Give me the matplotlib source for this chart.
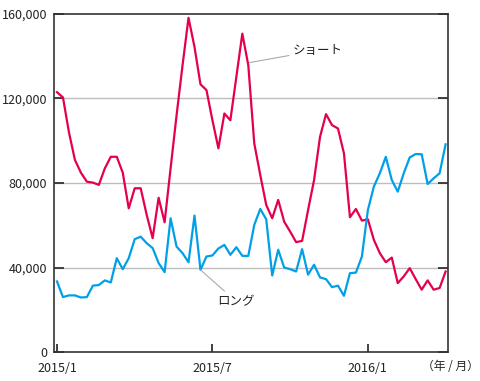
import numpy as np
import matplotlib.pyplot as plt

plt.rcParams['font.family'] = ['Noto Sans CJK JP', 'DejaVu Sans']

# weekly values, 2015/1 .. 2016/4
short = [123000, 120500, 104000, 90900, 84900, 80600, 80200, 79100, 86900, 92400,
         92400, 84900, 68000, 77500, 77500, 65000, 53900, 73000, 61400, 86900,
         112000, 135700, 158200, 144400, 126700, 124000, 109700, 96400, 112900, 109700,
         130200, 150700, 135700, 98700, 83800, 69600, 63300, 72000, 61700, 57000,
         52000, 52600, 67200, 81400, 101900, 112600, 107400, 105800, 94000, 63800,
         67700, 62200, 62800, 53100, 46800, 42500, 44700, 32600, 35800, 39700,
         34500, 29500, 33900, 29500, 30300, 38100]
long_ = [33400, 26000, 26800, 26800, 25800, 26000, 31400, 31700, 33900, 32900,
         44400, 39200, 44400, 53400, 54600, 51500, 49200, 42100, 37800, 63300,
         49900, 46800, 42500, 64600, 38900, 45200, 45700, 49000, 50700, 46000,
         49600, 45500, 45500, 60200, 67700, 62800, 36200, 48400, 40000, 39200,
         38100, 48700, 36600, 41300, 35300, 34500, 30700, 31400, 26600, 37300,
         37600, 45200, 67200, 78300, 84600, 92400, 81400, 75900, 84600, 92100,
         93700, 93600, 79500, 82200, 84600, 98300]
xtick_pos = [0, 26, 52]
xtick_labels = ['2015/1', '2015/7', '2016/1']
yticks = [0, 40000, 80000, 120000, 160000]

red = '#e5004f'
blue = '#00a0e9'
dark = '#333333'

fig = plt.figure(figsize=(4.8, 3.81), dpi=100)
ax = fig.add_axes([0.1125, 0.0761, 0.8208, 0.8872])

weeks = np.arange(len(short))
ax.plot(weeks, short, color=red, lw=1.6, zorder=3)
ax.plot(weeks, long_, color=blue, lw=1.6, zorder=3)

ax.set_xlim(-0.5, 65.4)
ax.set_ylim(0, 160000)
ax.set_yticks(yticks)
ax.set_yticklabels(['{:,}'.format(v) for v in yticks], fontsize=9, color='#222222')
ax.set_xticks(xtick_pos)
ax.set_xticklabels(xtick_labels, fontsize=9, color='#222222')

for v in yticks[1:-1]:
    ax.axhline(v, color='#bdbdbd', lw=1.0, zorder=1)

for s in ax.spines.values():
    s.set_color(dark)
    s.set_linewidth(1.2)

ax.tick_params(axis='y', direction='in', length=7, width=1.3, color=dark,
               right=True, pad=5)
ax.tick_params(axis='x', direction='in', length=6, width=1.3, color=dark, pad=7)

ax.annotate('ショート', xy=(32.2, 137000), xytext=(39.5, 142800),
            fontsize=9, color='#222222', va='center', ha='left',
            arrowprops=dict(arrowstyle='-', color='#aaaaaa', lw=0.8,
                            shrinkA=1, shrinkB=0))
ax.annotate('ロング', xy=(24.0, 38900), xytext=(26.8, 24000),
            fontsize=9, color='#222222', va='center', ha='left',
            arrowprops=dict(arrowstyle='-', color='#aaaaaa', lw=0.8,
                            shrinkA=1, shrinkB=0))

fig.text(0.997, 0.038, '（年 / 月）', fontsize=8.5, color='#222222',
         ha='right', va='center')

fig.savefig('out.png', dpi=100)
